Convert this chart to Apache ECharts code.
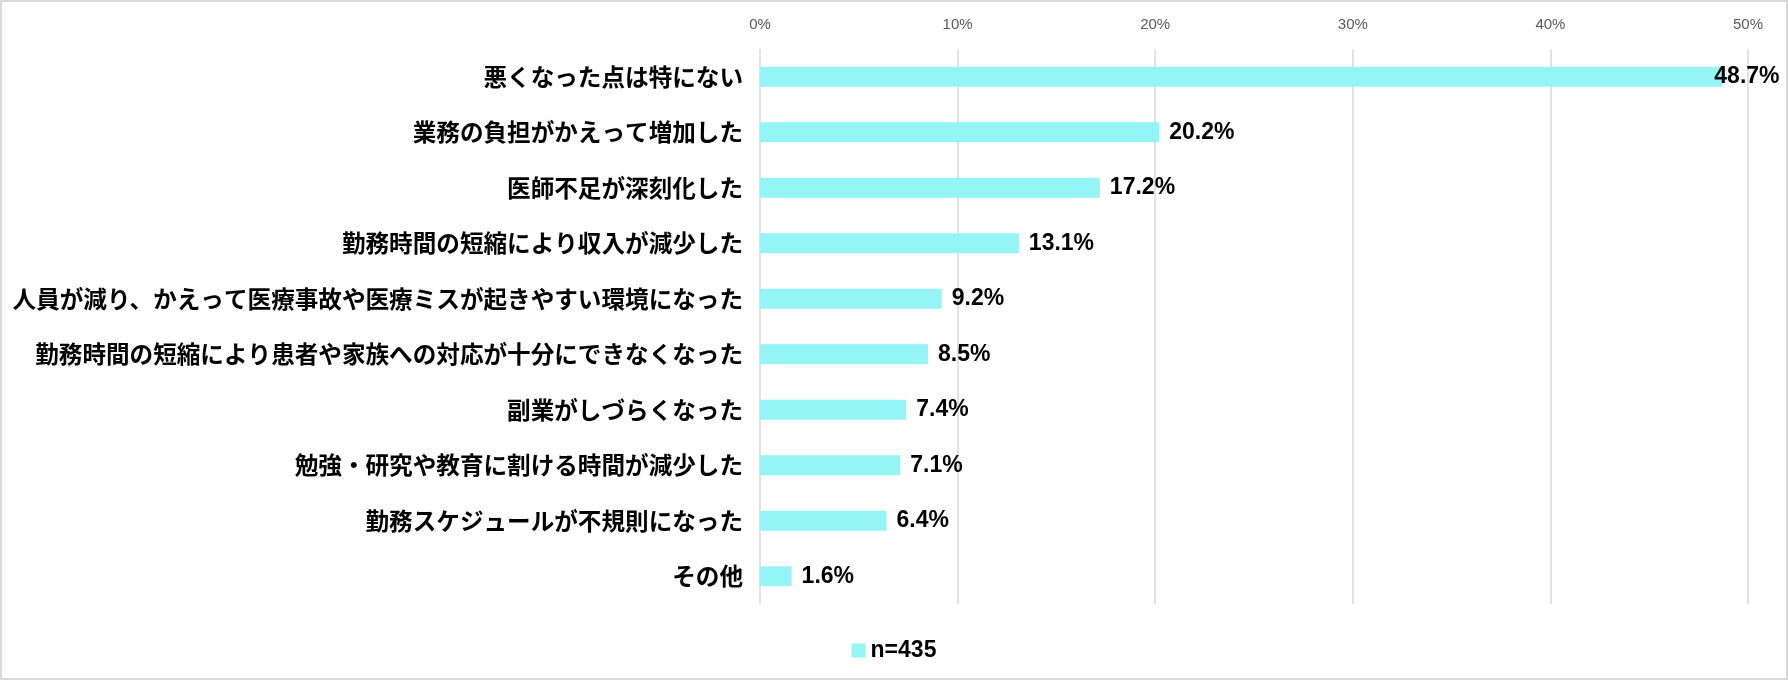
<!DOCTYPE html>
<html>
<head>
<meta charset="utf-8">
<script src="https://cdn.jsdelivr.net/npm/echarts@6/dist/echarts.min.js"></script>
<style>
  html, body { margin: 0; padding: 0; background: #fff; }
  #chart {
    width: 1788px;
    height: 680px;
    box-sizing: border-box;
    border: 2px solid #d9d9d9;
  }
</style>
</head>
<body>
<div id="chart"></div>
<script>
// 悪くなった点（n=435）
const categories = [
  "悪くなった点は特にない",
  "業務の負担がかえって増加した",
  "医師不足が深刻化した",
  "勤務時間の短縮により収入が減少した",
  "人員が減り、かえって医療事故や医療ミスが起きやすい環境になった",
  "勤務時間の短縮により患者や家族への対応が十分にできなくなった",
  "副業がしづらくなった",
  "勉強・研究や教育に割ける時間が減少した",
  "勤務スケジュールが不規則になった",
  "その他"
];
const values = [48.7, 20.2, 17.2, 13.1, 9.2, 8.5, 7.4, 7.1, 6.4, 1.6];
const seriesName = "n=435";
const barColor = "#94f4f6";

var myChart = echarts.init(document.getElementById("chart"));

// 先頭のバーだけラベルを端に寄せる（右端からはみ出さないように）
var barData = values.map(function (v, i) {
  var item = { value: v };
  if (i === 0) {
    item.label = { distance: -8 };
  }
  return item;
});

var option = {
  animation: false,
  grid: {
    left: 758,
    right: 38,
    top: 47,
    bottom: 74
  },
  legend: {
    left: "center",
    top: 632,
    icon: "rect",
    itemWidth: 14,
    itemHeight: 14,
    itemGap: 6,
    textStyle: {
      color: "#000",
      fontSize: 23,
      fontWeight: "bold",
      fontFamily: "Liberation Sans"
    },
    data: [seriesName]
  },
  xAxis: {
    type: "value",
    position: "top",
    min: 0,
    max: 50,
    interval: 10,
    axisLine: { show: false },
    axisTick: { show: false },
    axisLabel: {
      formatter: "{value}%",
      color: "#595959",
      fontSize: 15,
      fontFamily: "Liberation Sans",
      margin: 17
    },
    splitLine: {
      show: true,
      lineStyle: { color: "#d9d9d9", width: 1.5 }
    }
  },
  yAxis: {
    type: "category",
    inverse: true,
    data: categories,
    axisLine: { show: false },
    axisTick: { show: false },
    axisLabel: {
      color: "#000",
      fontSize: 23.6,
      fontWeight: "bold",
      fontFamily: "Noto Sans CJK JP",
      margin: 17
    }
  },
  series: [
    {
      name: seriesName,
      type: "bar",
      data: barData,
      barWidth: 20,
      itemStyle: { color: barColor },
      label: {
        show: true,
        position: "right",
        distance: 10,
        color: "#000",
        fontSize: 23,
        fontWeight: "bold",
        fontFamily: "Liberation Sans",
        formatter: function (p) {
          return p.value.toFixed(1) + "%";
        }
      }
    }
  ]
};

myChart.setOption(option);
</script>
</body>
</html>
